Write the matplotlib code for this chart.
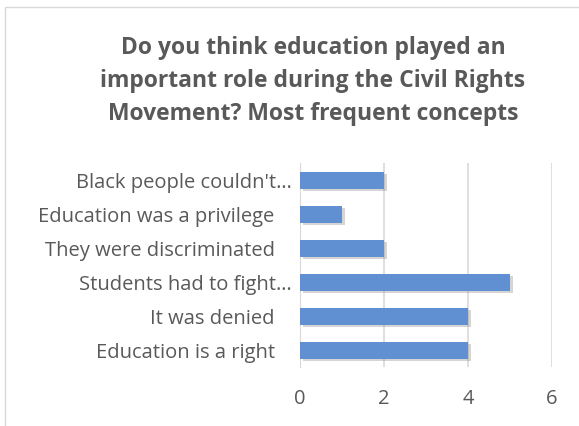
import matplotlib
matplotlib.use("Agg")
import matplotlib.pyplot as plt
import matplotlib.patches as mpatches
import matplotlib.patheffects as pe
import matplotlib.transforms as mtransforms

# Daten
labels = ["Black people couldn't…", "Education was a privilege", "They were discriminated",
          "Students had to fight…", "It was denied", "Education is a right"]
values = [2, 1, 2, 5, 4, 4]
xticks = [0, 2, 4, 6]

grey = "#595959"
bar_color = "#6190d2"

fig = plt.figure(figsize=(5.79, 4.27), dpi=100)
plt.rcParams["font.family"] = ["Open Sans", "DejaVu Sans"]

# Rahmen des Diagramms
frame = mpatches.Rectangle((5 / 579, -0.1), 1.0, 1 - 8 / 427 + 0.1, transform=fig.transFigure,
                           fill=False, edgecolor="#d9d9d9", linewidth=1.0)
fig.patches.append(frame)

ax = fig.add_axes([300 / 579, 1 - 368 / 427, 252 / 579, 204 / 427])

ypos = list(range(len(labels)))[::-1]
bars = ax.barh(ypos, values, height=0.5, color=bar_color, zorder=3)
for b in bars:
    b.set_path_effects([pe.SimplePatchShadow(offset=(2, -2), shadow_rgbFace="#888888", alpha=0.35),
                        pe.Normal()])

ax.set_xlim(0, 6)
ax.set_ylim(-0.5, len(labels) - 0.5)
ax.set_xticks(xticks)
ax.set_yticks(ypos)
ax.set_yticklabels(labels)
ax.tick_params(length=0, labelcolor=grey, labelsize=14.5)
ax.tick_params(axis="x", pad=15)
ax.tick_params(axis="y", pad=6)

# Excel rückt die nicht gekürzten Beschriftungen etwas weiter nach links
for t in ax.get_yticklabels():
    if not t.get_text().endswith("…"):
        t.set_transform(t.get_transform() + mtransforms.ScaledTranslation(-17 / 100, 0, fig.dpi_scale_trans))

ax.grid(axis="x", color="#d9d9d9", linewidth=1.2, zorder=0)
for s in ["top", "right", "bottom"]:
    ax.spines[s].set_visible(False)
ax.spines["left"].set_color("#d9d9d9")

fig.text(313 / 579, 1 - 81 / 427,
         "Do you think education played an\nimportant role during the Civil Rights\nMovement? Most frequent concepts",
         ha="center", va="center", fontsize=16.5, fontweight="bold", color=grey, linespacing=1.5)

fig.savefig("out.png", dpi=100)
